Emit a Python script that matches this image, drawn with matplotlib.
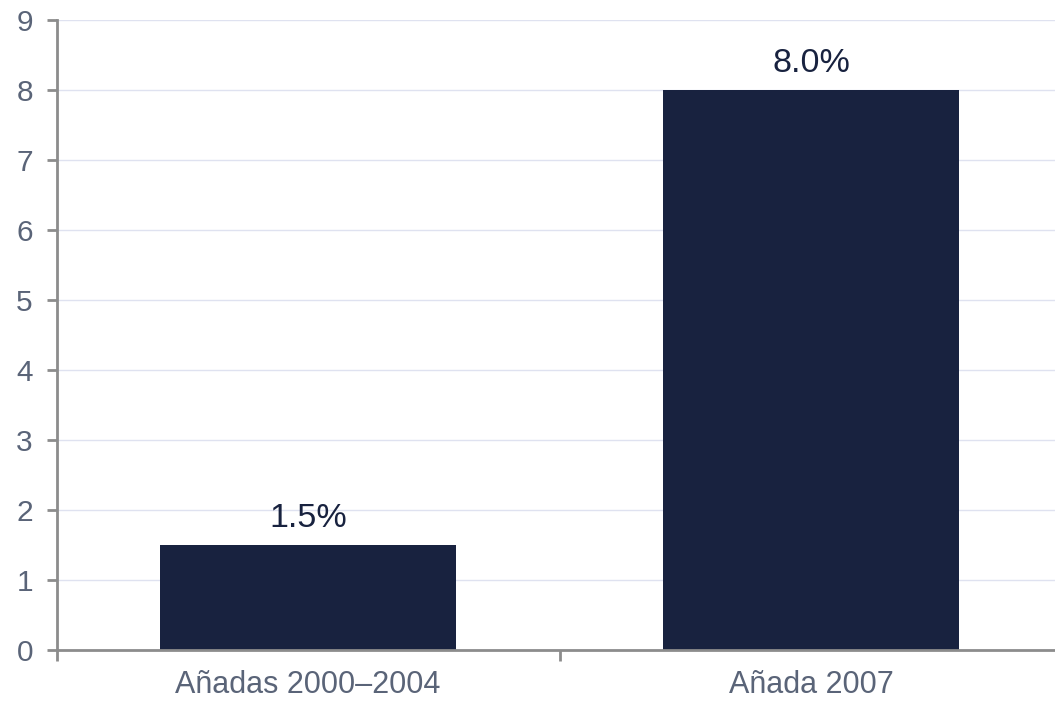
import matplotlib
matplotlib.use("Agg")
import matplotlib.pyplot as plt

categories = ["Añadas 2000–2004", "Añada 2007"]
values = [1.5, 8.0]
value_labels = ["1.5%", "8.0%"]
y_ticks = [0, 1, 2, 3, 4, 5, 6, 7, 8, 9]

plt.rcParams['font.family'] = ['Liberation Sans', 'DejaVu Sans']

W, H = 1055, 703
left_px, right_px, top_px, bot_px = 56.5, 1062.5, 20, 650
fig = plt.figure(figsize=(W / 100, H / 100), dpi=100)
ax = fig.add_axes([left_px / W, 1 - bot_px / H, (right_px - left_px) / W, (bot_px - top_px) / H])

x = [i + 0.5 for i in range(len(categories))]
ax.bar(x, values, width=0.588, color="#18223f", zorder=3)
for xi, v, lab in zip(x, values, value_labels):
    ax.text(xi, v + 0.26, lab, ha="center", va="baseline", fontsize=24.5, color="#18223f")

ax.set_xlim(0, len(categories))
ax.set_ylim(0, 9)
ax.set_yticks(y_ticks)
ax.set_yticklabels([str(t) for t in y_ticks])
ax.set_xticks(range(len(categories) + 1))
ax.set_xticklabels([])
ax.set_xticks(x, minor=True)
ax.set_xticklabels(categories, minor=True)
ax.tick_params(axis="x", which="minor", length=0, pad=14.5, labelsize=22, labelcolor="#5a6478")
ax.tick_params(axis="x", which="major", length=8, width=2, color="#8c8c8c")
ax.tick_params(axis="y", length=7, width=2, color="#8c8c8c", labelsize=21.5, labelcolor="#5a6478", pad=10)

ax.yaxis.grid(True, color="#dfe2f0", linewidth=1, zorder=0)
for s in ["top", "right"]:
    ax.spines[s].set_visible(False)
for s in ["left", "bottom"]:
    ax.spines[s].set_color("#8c8c8c")
    ax.spines[s].set_linewidth(2)
    ax.spines[s].set_zorder(4)

fig.savefig("out.png", dpi=100)
